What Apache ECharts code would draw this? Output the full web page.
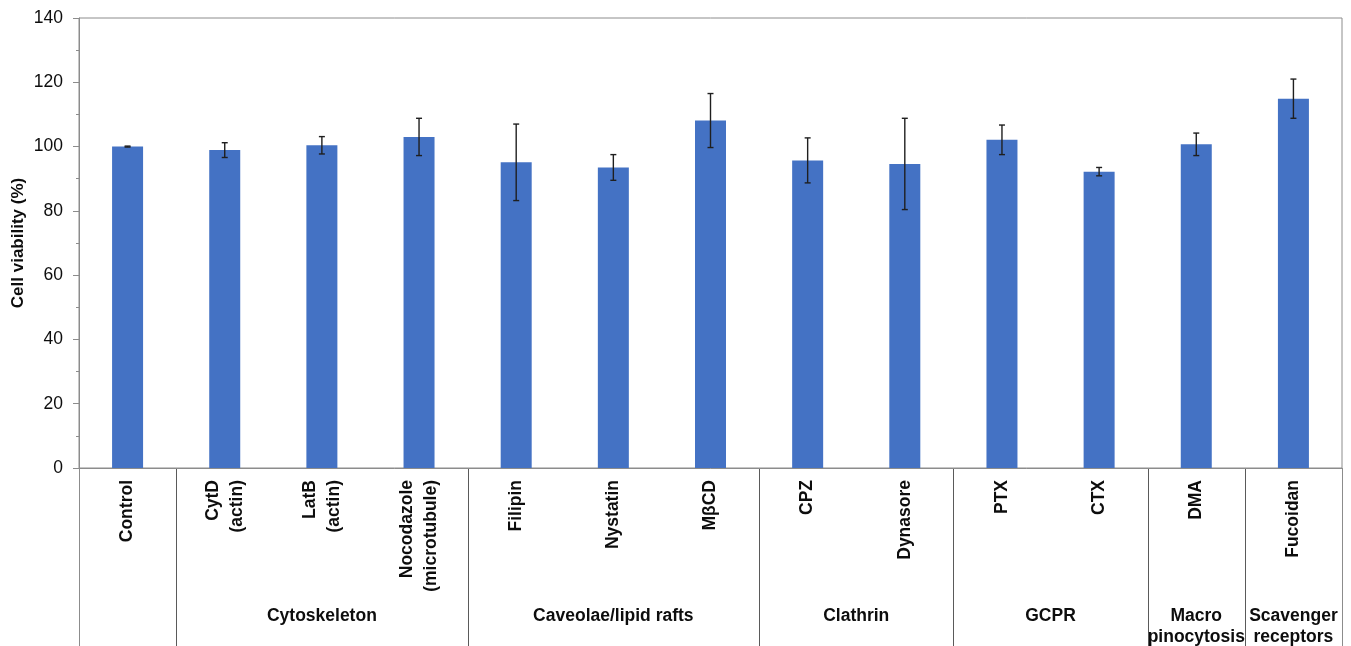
<!DOCTYPE html>
<html>
<head>
<meta charset="utf-8">
<script src="https://cdn.jsdelivr.net/npm/echarts@6/dist/echarts.min.js"></script>
<style>
  html, body { margin: 0; padding: 0; background: #fff; }
  #chart { width: 1351px; height: 646px; }
</style>
</head>
<body>
<div id="chart"></div>
<script>
// Treatments (x categories) and measured viability
const categories = [
  'Control', 'CytD\n(actin)', 'LatB\n(actin)', 'Nocodazole\n(microtubule)',
  'Filipin', 'Nystatin', 'MβCD', 'CPZ', 'Dynasore', 'PTX', 'CTX', 'DMA', 'Fucoidan'
];
const viability = [100, 98.9, 100.4, 103.0, 95.1, 93.5, 108.1, 95.7, 94.6, 102.1, 92.2, 100.7, 114.9];
const errors    = [0.15, 2.3, 2.7, 5.8, 11.9, 4.0, 8.4, 7.0, 14.2, 4.6, 1.3, 3.5, 6.1];

// Pathway groups: label and the first/last category index they cover
const groupNames = ['', 'Cytoskeleton', 'Caveolae/lipid rafts', 'Clathrin', 'GCPR', 'Macro\npinocytosis', 'Scavenger\nreceptors'];
const groupStart = [0, 1, 4, 7, 9, 11, 12];
const groupEnd   = [0, 3, 6, 8, 10, 11, 12];

const yTicks = { min: 0, max: 140, step: 20 };

const FONT = "'Liberation Sans', Arial, sans-serif";
const AXIS_GRAY = '#8c8c8c';
const TEXT = '#0d0d0d';

const chart = echarts.init(document.getElementById('chart'), null, { renderer: 'canvas' });

const errData = viability.map((v, i) => [i, v - errors[i], v + errors[i]]);

chart.setOption({
  animation: false,
  backgroundColor: '#ffffff',
  grid: {
    left: 79, right: 9, top: 18, bottom: 178,
    outerBoundsMode: 'none', containLabel: false,
    show: true, borderColor: AXIS_GRAY, borderWidth: 1, backgroundColor: 'transparent'
  },
  xAxis: {
    type: 'category',
    data: categories,
    axisLine: { lineStyle: { color: AXIS_GRAY, width: 1 } },
    axisTick: { show: false },
    axisLabel: {
      rotate: 90, interval: 0, margin: 12,
      fontFamily: FONT, fontSize: 17.5, fontWeight: 'bold', color: TEXT,
      lineHeight: 24
    }
  },
  yAxis: {
    type: 'value',
    min: yTicks.min, max: yTicks.max, interval: yTicks.step,
    name: 'Cell viability (%)',
    nameLocation: 'middle', nameGap: 52, nameRotate: 90, nameMoveOverlap: false,
    nameTextStyle: { fontFamily: FONT, fontSize: 17, fontWeight: 'bold', color: TEXT },
    axisLine: { show: true, lineStyle: { color: AXIS_GRAY, width: 1 } },
    axisTick: { show: true, inside: false, length: 6, lineStyle: { color: AXIS_GRAY } },
    minorTick: { show: true, splitNumber: 2, length: 3, lineStyle: { color: AXIS_GRAY } },
    splitLine: { show: false },
    axisLabel: { margin: 16, fontFamily: FONT, fontSize: 17.5, color: TEXT }
  },
  series: [
    {
      type: 'bar',
      data: viability,
      barWidth: 31,
      itemStyle: { color: '#4472C4' },
      z: 2
    },
    {
      type: 'custom',
      data: errData,
      z: 3,
      renderItem: function (params, api) {
        const x = api.coord([api.value(0), 0])[0];
        const lo = api.coord([api.value(0), api.value(1)])[1];
        const hi = api.coord([api.value(0), api.value(2)])[1];
        const cap = 3;
        const style = { stroke: '#1f1f1f', lineWidth: 1.4 };
        return {
          type: 'group',
          children: [
            { type: 'line', shape: { x1: x, y1: hi, x2: x, y2: lo }, style: style },
            { type: 'line', shape: { x1: x - cap, y1: hi, x2: x + cap, y2: hi }, style: style },
            { type: 'line', shape: { x1: x - cap, y1: lo, x2: x + cap, y2: lo }, style: style }
          ]
        };
      }
    }
  ]
});

// Group dividers and group captions below the category labels,
// placed from the category axis scale.
function drawGroups() {
  const c0 = chart.convertToPixel({ xAxisIndex: 0 }, 0);
  const c1 = chart.convertToPixel({ xAxisIndex: 0 }, 1);
  const band = c1 - c0;
  const boundary = k => c0 + (k - 0.5) * band;
  const axisY = chart.convertToPixel({ yAxisIndex: 0 }, 0);
  const bottom = 646;

  const edges = new Set();
  groupStart.forEach(s => edges.add(s));
  groupEnd.forEach(e => edges.add(e + 1));

  const elements = [];
  Array.from(edges).sort((a, b) => a - b).forEach(k => {
    const x = Math.round(boundary(k)) + 0.5;
    elements.push({
      type: 'line', silent: true,
      shape: { x1: x, y1: axisY, x2: x, y2: bottom },
      style: { stroke: k === 0 || k === categories.length ? AXIS_GRAY : '#5a5a5a', lineWidth: 1 }
    });
  });

  groupNames.forEach((name, g) => {
    if (!name) return;
    const cx = (boundary(groupStart[g]) + boundary(groupEnd[g] + 1)) / 2;
    elements.push({
      type: 'text', silent: true,
      x: cx, y: 606,
      style: {
        text: name, align: 'center', verticalAlign: 'top',
        font: 'bold 17.5px ' + FONT, lineHeight: 21, fill: TEXT
      }
    });
  });

  chart.setOption({ graphic: elements });
}
drawGroups();
</script>
</body>
</html>
